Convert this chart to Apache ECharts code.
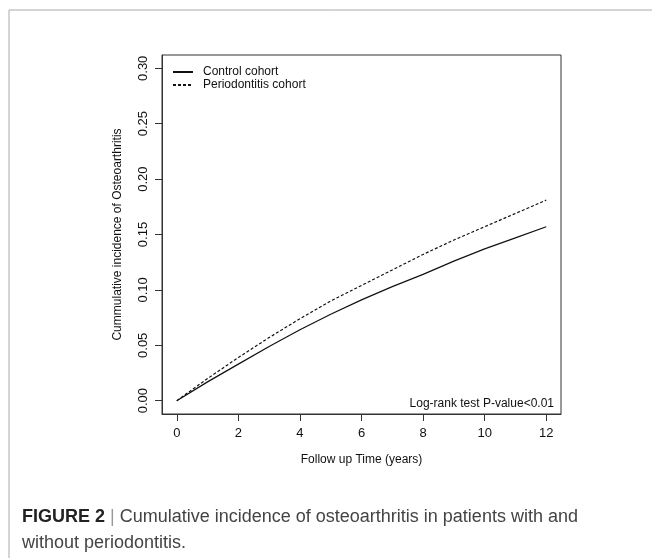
<!DOCTYPE html>
<html>
<head>
<meta charset="utf-8">
<script src="https://cdn.jsdelivr.net/npm/echarts@6/dist/echarts.min.js"></script>
<style>
html,body{margin:0;padding:0;background:#fff;}
#c{width:652px;height:558px;}
</style>
</head>
<body>
<div id="c"></div>
<script>
var timeYears = [0, 1, 2, 3, 4, 5, 6, 7, 8, 9, 10, 11, 12];
var controlCohort = [0, 0.017, 0.033, 0.049, 0.064, 0.078, 0.091, 0.103, 0.114, 0.126, 0.137, 0.147, 0.157];
var periodontitisCohort = [0, 0.020, 0.039, 0.057, 0.074, 0.090, 0.104, 0.118, 0.132, 0.145, 0.157, 0.169, 0.181];
var xTicks = [0, 2, 4, 6, 8, 10, 12];
var yTicks = [0, 0.05, 0.10, 0.15, 0.20, 0.25, 0.30];
var seriesNames = ['Control cohort', 'Periodontitis cohort'];

function pairs(xs, ys) { return xs.map(function (x, i) { return [x, ys[i]]; }); }

var font = 'Liberation Sans, Arial, Helvetica, sans-serif';
var chart = echarts.init(document.getElementById('c'), null, {renderer: 'canvas'});
chart.setOption({
  backgroundColor: '#fff',
  animation: false,
  grid: {left: 162, top: 55, width: 399, height: 359, show: true, borderColor: '#333', borderWidth: 1, backgroundColor: 'transparent'},
  xAxis: {
    type: 'value', min: -0.48, max: 12.48,
    name: 'Follow up Time (years)', nameLocation: 'middle', nameGap: 40,
    nameTextStyle: {fontFamily: font, fontSize: 12, color: '#111'},
    axisLine: {show: true, onZero: false, lineStyle: {color: '#333', width: 1}},
    axisTick: {show: true, length: 7, customValues: xTicks, lineStyle: {color: '#333'}},
    axisLabel: {customValues: xTicks, margin: 13, fontFamily: font, fontSize: 13, color: '#111', formatter: function (v) { return String(v); }},
    splitLine: {show: false}
  },
  yAxis: {
    type: 'value', min: -0.012, max: 0.312,
    name: 'Cummulative incidence of Osteoarthritis', nameLocation: 'middle', nameGap: 38, nameRotate: 90,
    nameTextStyle: {fontFamily: font, fontSize: 12, color: '#111'},
    axisLine: {show: true, onZero: false, lineStyle: {color: '#333', width: 1}},
    axisTick: {show: true, length: 7, customValues: yTicks, lineStyle: {color: '#333'}},
    axisLabel: {customValues: yTicks, rotate: 90, margin: 12, align: 'center', verticalAlign: 'bottom', fontFamily: font, fontSize: 13, color: '#111', formatter: function (v) { return v.toFixed(2); }},
    splitLine: {show: false}
  },
  legend: {
    left: 167, top: 61, orient: 'vertical', itemGap: 1, itemWidth: 20, itemHeight: 13,
    itemStyle: {opacity: 0},
    textStyle: {fontFamily: font, fontSize: 12, color: '#111', padding: [0, 0, 0, 5]},
    data: seriesNames
  },
  series: [
    {name: seriesNames[0], type: 'line', showSymbol: false, symbol: 'none', smooth: false,
     lineStyle: {color: '#111', width: 1.2, type: 'solid'}, itemStyle: {color: '#111'},
     data: pairs(timeYears, controlCohort)},
    {name: seriesNames[1], type: 'line', showSymbol: false, symbol: 'none', smooth: false,
     lineStyle: {color: '#111', width: 1.2, type: [3, 2]}, itemStyle: {color: '#111'},
     data: pairs(timeYears, periodontitisCohort)}
  ],
  graphic: [
    {type: 'line', shape: {x1: 9, y1: 10, x2: 652, y2: 10}, style: {stroke: '#aaa', lineWidth: 1}},
    {type: 'line', shape: {x1: 9, y1: 10, x2: 9, y2: 558}, style: {stroke: '#aaa', lineWidth: 1}},
    {type: 'text', right: 652 - 554, top: 398, style: {text: 'Log-rank test P-value<0.01', font: '12px ' + font, fill: '#111'}},
    {type: 'text', left: 22, top: 508, style: {
      text: '{b|FIGURE 2}{s| | }{t|Cumulative incidence of osteoarthritis in patients with and}\n{t|without periodontitis.}',
      rich: {
        b: {fontFamily: font, fontSize: 18, fontWeight: 'bold', fill: '#222', lineHeight: 26},
        s: {fontFamily: font, fontSize: 18, fill: '#999', lineHeight: 26},
        t: {fontFamily: font, fontSize: 18, fill: '#444', lineHeight: 26}
      }
    }}
  ]
});
</script>
</body>
</html>
